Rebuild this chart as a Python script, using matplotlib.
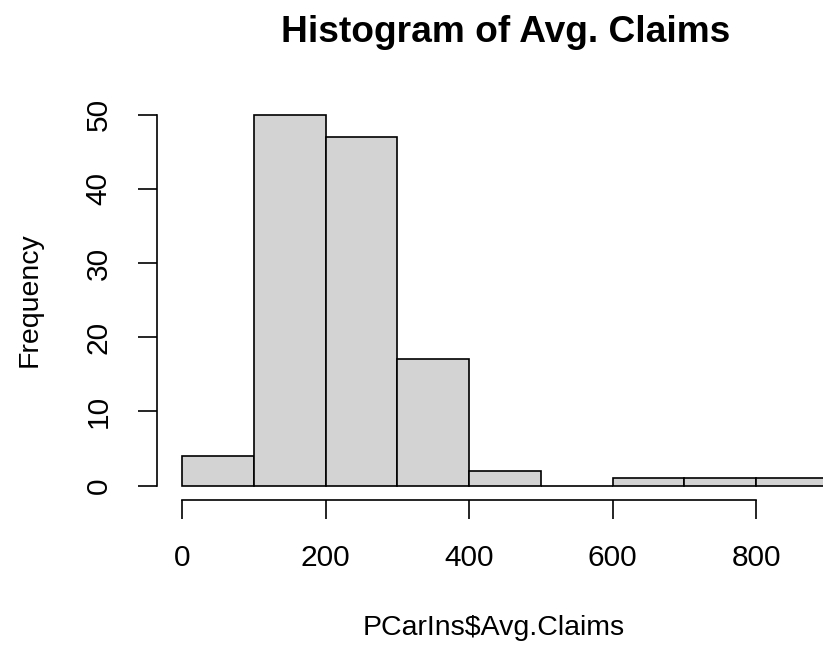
import numpy as np
import matplotlib.pyplot as plt

# histogram of average claims (bin edges and counts)
bin_edges = [0, 100, 200, 300, 400, 500, 600, 700, 800, 900]
counts = [4, 50, 47, 17, 2, 0, 1, 1, 1]
x_ticks = [0, 200, 400, 600, 800]
y_ticks = [0, 10, 20, 30, 40, 50]

plt.rcParams['font.family'] = ['Liberation Sans', 'DejaVu Sans']

W, H = 823, 649
fig = plt.figure(figsize=(W / 100, H / 100), dpi=100)

# R-like plot region (4% padding around the data range); right side runs off the image
left, right = 156.5, 853.6
top, bottom = 99.7, 500.4
ax = fig.add_axes([left / W, 1 - bottom / H, (right - left) / W, (bottom - top) / H])

ax.bar(bin_edges[:-1], counts, width=np.diff(bin_edges), align='edge',
       color='#D3D3D3', edgecolor='black', linewidth=1.2)

ax.set_xlim(-36, 936)
ax.set_ylim(-2, 52)

for s in ['top', 'right']:
    ax.spines[s].set_visible(False)
ax.spines['left'].set_bounds(0, 50)
ax.spines['bottom'].set_bounds(0, 800)
ax.spines['left'].set_linewidth(1.2)
ax.spines['bottom'].set_linewidth(1.2)

ax.set_xticks(x_ticks)
ax.set_yticks(y_ticks)
ax.set_yticklabels([str(v) for v in y_ticks], rotation=90, va='center')
ax.tick_params(axis='both', length=13.5, width=1.2, labelsize=21.5, pad=18)

fig.text(506 / W, 1 - 33 / H, 'Histogram of Avg. Claims', ha='center', va='center',
         fontsize=26.7, fontweight='bold')
fig.text(494 / W, 1 - 628 / H, 'PCarIns$Avg.Claims', ha='center', va='center', fontsize=20.5)
fig.text(30 / W, 1 - 300 / H, 'Frequency', ha='center', va='center', rotation=90, fontsize=20.5)

plt.savefig('out.png', dpi=100)
